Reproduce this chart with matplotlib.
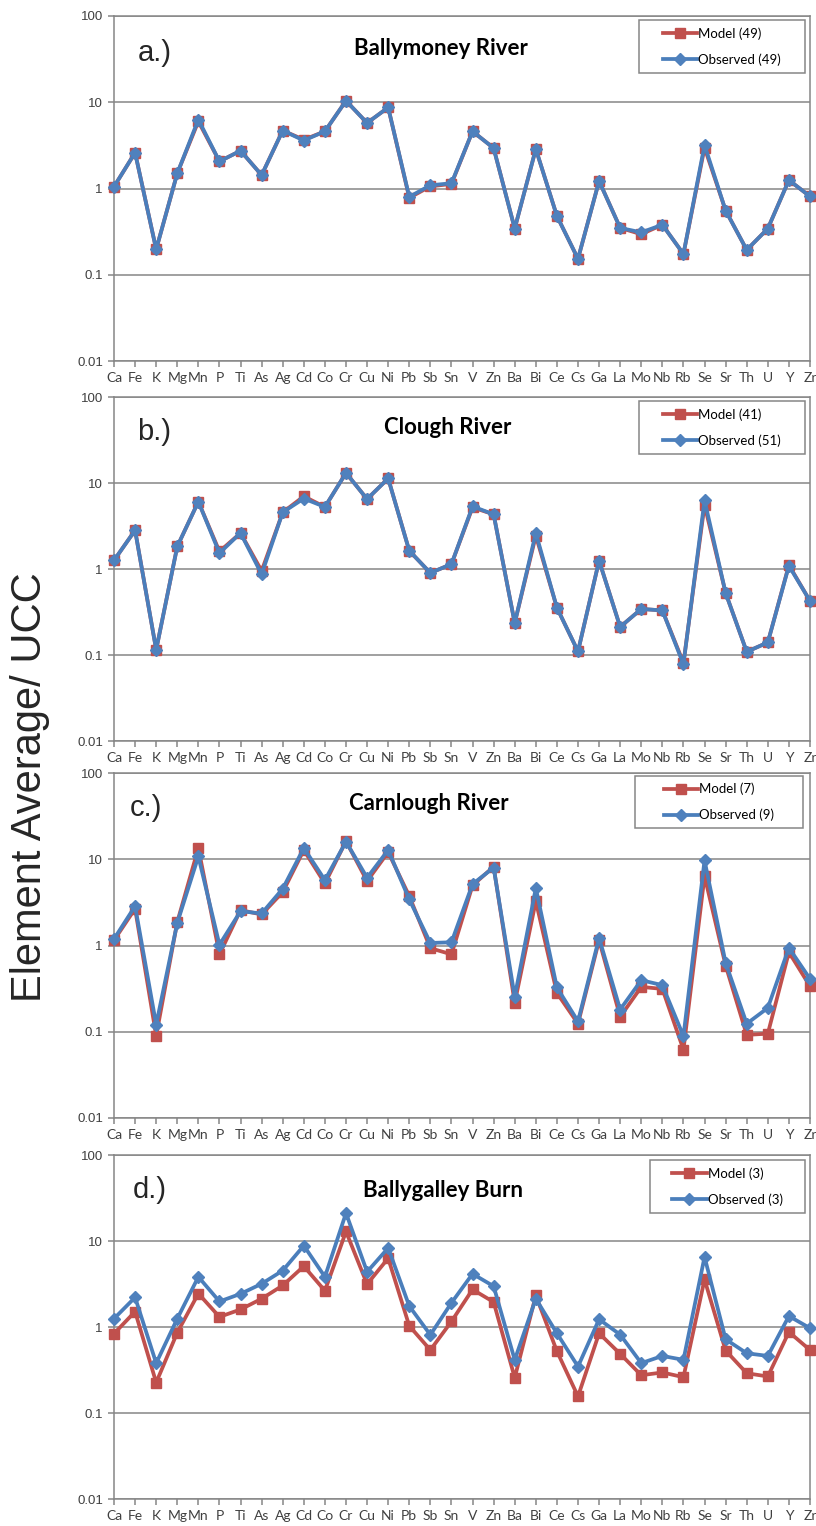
import matplotlib
matplotlib.use("Agg")
import matplotlib.pyplot as plt
from matplotlib.patches import Rectangle
from matplotlib.ticker import FixedLocator, NullLocator

elements = ["Ca","Fe","K","Mg","Mn","P","Ti","As","Ag","Cd","Co","Cr","Cu","Ni","Pb","Sb","Sn",
            "V","Zn","Ba","Bi","Ce","Cs","Ga","La","Mo","Nb","Rb","Se","Sr","Th","U","Y","Zr"]

titles = ["Ballymoney River", "Clough River", "Carnlough River", "Ballygalley Burn"]
panel_labels = ["a.)", "b.)", "c.)", "d.)"]
model_labels = ["Model (49)", "Model (41)", "Model (7)", "Model (3)"]
obs_labels = ["Observed (49)", "Observed (51)", "Observed (9)", "Observed (3)"]

model_a = [1.05, 2.6, 0.197, 1.5, 6.0, 2.06, 2.74, 1.43, 4.7, 3.68, 4.6, 10.4, 5.75, 8.7, 0.78, 1.06, 1.13,
           4.6, 2.94, 0.343, 2.87, 0.48, 0.153, 1.22, 0.349, 0.295, 0.38, 0.174, 2.97, 0.555, 0.194, 0.343, 1.25, 0.81]
obs_a = [1.05, 2.6, 0.197, 1.5, 6.3, 2.06, 2.74, 1.43, 4.7, 3.6, 4.6, 10.4, 5.75, 8.7, 0.80, 1.09, 1.15,
         4.6, 2.94, 0.343, 2.87, 0.48, 0.153, 1.22, 0.349, 0.31, 0.38, 0.174, 3.19, 0.555, 0.194, 0.343, 1.25, 0.81]

model_b = [1.26, 2.82, 0.115, 1.83, 6.07, 1.6, 2.62, 0.95, 4.56, 7.0, 5.26, 13.1, 6.5, 11.3, 1.63, 0.9, 1.14,
           5.2, 4.32, 0.235, 2.44, 0.355, 0.11, 1.25, 0.212, 0.343, 0.33, 0.081, 5.55, 0.526, 0.109, 0.14, 1.11, 0.425]
obs_b = [1.26, 2.82, 0.115, 1.83, 6.07, 1.53, 2.62, 0.87, 4.56, 6.6, 5.26, 13.1, 6.5, 11.3, 1.63, 0.9, 1.14,
         5.35, 4.32, 0.235, 2.62, 0.355, 0.11, 1.25, 0.212, 0.343, 0.33, 0.078, 6.3, 0.526, 0.109, 0.14, 1.09, 0.425]

model_c = [1.15, 2.67, 0.090, 1.87, 13.5, 0.79, 2.57, 2.29, 4.16, 12.8, 5.24, 16.2, 5.58, 12.1, 3.74, 0.93, 0.79,
           4.97, 8.2, 0.216, 3.27, 0.282, 0.124, 1.15, 0.149, 0.331, 0.314, 0.062, 6.38, 0.586, 0.092, 0.095, 0.837, 0.337]
obs_c = [1.19, 2.86, 0.121, 1.83, 10.8, 1.02, 2.5, 2.35, 4.55, 13.5, 5.73, 16.0, 6.1, 12.8, 3.42, 1.07, 1.09,
         5.15, 8.0, 0.254, 4.63, 0.326, 0.132, 1.22, 0.181, 0.396, 0.347, 0.089, 9.69, 0.63, 0.124, 0.189, 0.94, 0.41]

model_d = [0.837, 1.51, 0.226, 0.86, 2.45, 1.31, 1.6, 2.13, 3.04, 5.09, 2.64, 12.9, 3.15, 6.3, 1.03, 0.54, 1.16,
           2.73, 1.95, 0.257, 2.33, 0.523, 0.156, 0.845, 0.487, 0.275, 0.296, 0.261, 3.57, 0.532, 0.29, 0.266, 0.875, 0.54]
obs_d = [1.25, 2.21, 0.38, 1.25, 3.83, 1.98, 2.43, 3.18, 4.53, 8.83, 3.83, 21.1, 4.38, 8.3, 1.75, 0.81, 1.91,
         4.15, 2.98, 0.415, 2.13, 0.845, 0.347, 1.23, 0.815, 0.38, 0.461, 0.415, 6.53, 0.72, 0.495, 0.461, 1.34, 0.97]

models = [model_a, model_b, model_c, model_d]
observed = [obs_a, obs_b, obs_c, obs_d]

yticks = [0.01, 0.1, 1, 10, 100]
ytick_labels = ["0.01", "0.1", "1", "10", "100"]

RED = "#C0504D"
BLUE = "#4A7EBB"
GRAY = "#868686"
TXT = "#404040"

W, H = 816, 1526
fig = plt.figure(figsize=(W / 100, H / 100), dpi=100)

# axes pixel geometry: (top, bottom)
panels_px = [(16, 361), (397, 741), (773, 1118), (1155, 1499)]
left_px, right_px = 114, 810
title_x = [0.470, 0.479, 0.453, 0.472]
title_y = [0.905, 0.912, 0.913, 0.898]
lab_x = [0.034, 0.033, 0.022, 0.027]
lab_y = [0.893, 0.898, 0.899, 0.898]
leg_boxes = [(0.754, 0.835, 0.993, 0.988), (0.754, 0.835, 0.993, 0.988),
             (0.749, 0.841, 0.990, 0.991), (0.770, 0.831, 0.993, 0.985)]

x = list(range(len(elements)))

for i in range(4):
    top, bot = panels_px[i]
    ax = fig.add_axes([left_px / W, 1 - bot / H, (right_px - left_px) / W, (bot - top) / H])
    ax.set_yscale("log")
    ax.set_ylim(0.01, 100)
    ax.set_xlim(0, len(elements) - 1)
    ax.yaxis.set_major_locator(FixedLocator(yticks))
    ax.yaxis.set_minor_locator(NullLocator())
    ax.set_yticklabels(ytick_labels, fontfamily="Liberation Sans", fontsize=9.5, color=TXT)
    ax.set_xticks(x)
    ax.set_xticklabels(elements, fontfamily="Lato", fontsize=10, color=TXT)
    ax.tick_params(axis="both", direction="out", length=4, width=1.1, color=GRAY)
    ax.tick_params(axis="y", pad=4)
    ax.tick_params(axis="x", pad=4)
    ax.grid(axis="y", which="major", color=GRAY, linewidth=1.1)
    ax.set_axisbelow(True)
    for s in ax.spines.values():
        s.set_color(GRAY)
        s.set_linewidth(1.1)

    lm, = ax.plot(x, models[i], color=RED, linewidth=2.7, marker="s", markersize=7.5,
                  markerfacecolor=RED, markeredgecolor=RED, clip_on=False, zorder=3,
                  label=model_labels[i])
    lo, = ax.plot(x, observed[i], color=BLUE, linewidth=2.7, marker="D", markersize=6,
                  markerfacecolor="#4F81BD", markeredgecolor="#4F81BD", clip_on=False, zorder=4,
                  label=obs_labels[i])

    ax.text(title_x[i], title_y[i], titles[i], transform=ax.transAxes, ha="center", va="center",
            fontfamily="Lato", fontweight="bold", fontsize=16, color="black")
    ax.text(lab_x[i], lab_y[i], panel_labels[i], transform=ax.transAxes, ha="left", va="center",
            fontfamily="Liberation Sans", fontsize=21, color="#262626")

    x0, y0, x1, y1 = leg_boxes[i]
    ax.add_patch(Rectangle((x0, y0), x1 - x0, y1 - y0, transform=ax.transAxes, facecolor="white",
                           edgecolor=GRAY, linewidth=1.1, zorder=5, clip_on=False))
    leg = ax.legend(handles=[lm, lo], loc="center", bbox_to_anchor=((x0 + x1) / 2, (y0 + y1) / 2),
                    frameon=False, prop={"family": "Lato", "size": 9.5}, handlelength=2.6,
                    handletextpad=0.1, labelspacing=1.0, borderpad=0.2)
    leg.set_zorder(6)

fig.text(30 / W, 1 - 787 / H, "Element Average/ UCC", rotation=90, ha="center", va="center",
         fontfamily="Liberation Sans", fontsize=30, color="#262626")

fig.savefig("out.png", dpi=100)
